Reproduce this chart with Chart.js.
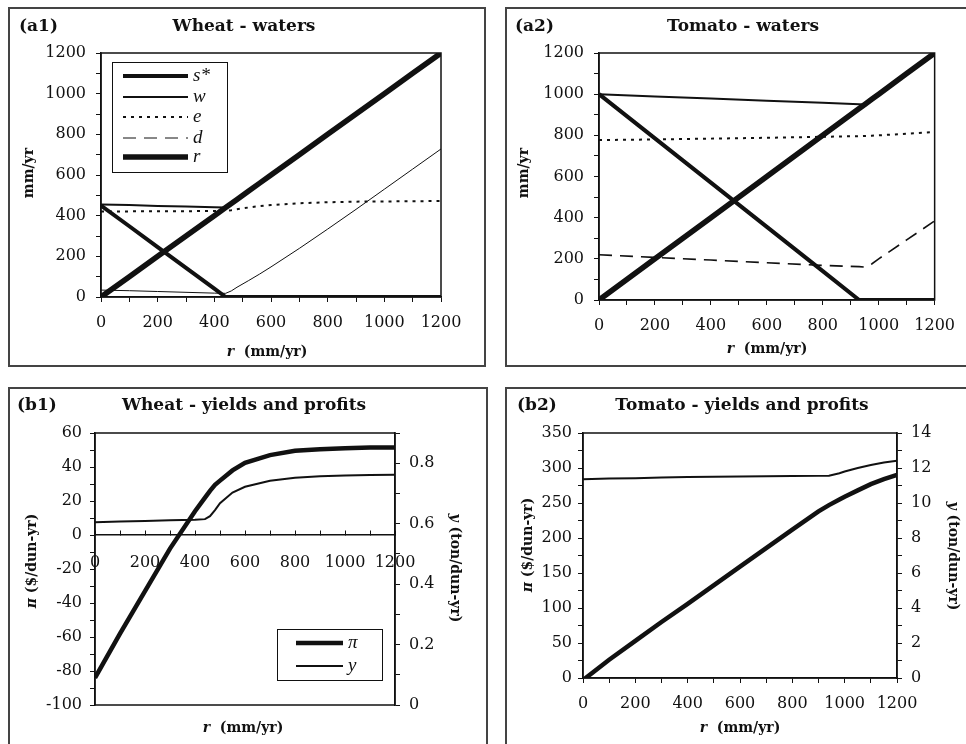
<!DOCTYPE html>
<html>
<head>
<meta charset="utf-8">
<title>Wheat / Tomato — waters, yields and profits</title>
<script src="https://cdn.jsdelivr.net/npm/chart.js@4.4.1/dist/chart.umd.min.js"></script>
<style>
  body { margin:0; width:966px; height:744px; overflow:hidden; position:relative; background:#fff; color:#111; font-family:'DejaVu Serif', serif; }
  .panel { position:absolute; border:2px solid #444; box-sizing:border-box; }
  canvas { position:absolute; }
  .txt { position:absolute; font-weight:bold; white-space:nowrap; line-height:20px; }
  .tag, .ttl { font-size:17px; }
  .ttl { text-align:center; width:400px; }
  .ax { font-size:14px; text-align:center; width:200px; }
  .rot-l { transform:rotate(-90deg); }
  .rot-r { transform:rotate(90deg); }
</style>
</head>
<body>

<div class="panel" style="left:8px; top:7px; width:478px; height:360px;"></div>
<div class="panel" style="left:505px; top:7px; width:470px; height:360px;"></div>
<div class="panel" style="left:8px; top:387px; width:480px; height:370px;"></div>
<div class="panel" style="left:505px; top:387px; width:470px; height:370px;"></div>

<canvas id="chart-a1" width="473" height="355" style="left:10px; top:9px;"></canvas>
<canvas id="chart-a2" width="459" height="355" style="left:507px; top:9px;"></canvas>
<canvas id="chart-b1" width="475" height="355" style="left:10px; top:389px;"></canvas>
<canvas id="chart-b2" width="459" height="355" style="left:507px; top:389px;"></canvas>

<!-- panel labels and titles -->
<div class="txt tag" style="left:19px; top:15px;">(a1)</div>
<div class="txt ttl" style="left:44px; top:15px;">Wheat - waters</div>
<div class="txt tag" style="left:515px; top:15px;">(a2)</div>
<div class="txt ttl" style="left:543px; top:15px;">Tomato - waters</div>
<div class="txt tag" style="left:17px; top:394px;">(b1)</div>
<div class="txt ttl" style="left:44px; top:394px;">Wheat - yields and profits</div>
<div class="txt tag" style="left:517px; top:394px;">(b2)</div>
<div class="txt ttl" style="left:542px; top:394px;">Tomato - yields and profits</div>

<!-- axis titles -->
<div class="txt ax" style="left:167px; top:341px;"><i>r</i>&nbsp; (mm/yr)</div>
<div class="txt ax rot-l" style="left:-72px; top:163px;">mm/yr</div>
<div class="txt ax" style="left:667px; top:338px;"><i>r</i>&nbsp; (mm/yr)</div>
<div class="txt ax rot-l" style="left:423px; top:163px;">mm/yr</div>
<div class="txt ax" style="left:143px; top:717px;"><i>r</i>&nbsp; (mm/yr)</div>
<div class="txt ax rot-l" style="left:-69px; top:551px;"><i>π</i> ($/dun-yr)</div>
<div class="txt ax rot-r" style="left:356px; top:558px;"><i>y</i> (ton/dun-yr)</div>
<div class="txt ax" style="left:640px; top:717px;"><i>r</i>&nbsp; (mm/yr)</div>
<div class="txt ax rot-l" style="left:427px; top:535px;"><i>π</i> ($/dun-yr)</div>
<div class="txt ax rot-r" style="left:854px; top:546px;"><i>y</i> (ton/dun-yr)</div>

<script>
// Four panels: irrigation waters (a1, a2) and yields/profits (b1, b2) vs r

// ── (a1) Wheat - waters ───────────────────────────────────────────────────────
const A1_R = [0, 100, 200, 300, 400, 440, 460, 480, 520, 560, 600, 700, 800, 900, 1000, 1100, 1200];
const A1_S = [450, 348, 245, 143, 41, 0, 0, 0, 0, 0, 0, 0, 0, 0, 0, 0, 0];
const A1_W = [455, 452, 448, 445, 441, 440, 460, 480, 520, 560, 600, 700, 800, 900, 1000, 1100, 1200];
const A1_E = [421, 421, 422, 422, 423, 423, 427, 432, 440, 447, 452, 461, 466, 469, 470, 471, 472];
const A1_D = [34, 31, 27, 23, 19, 18, 30, 48, 80, 113, 148, 239, 334, 431, 530, 629, 728];

// ── (a2) Tomato - waters ──────────────────────────────────────────────────────
const A2_R = [0, 200, 400, 600, 800, 930, 950, 975, 1000, 1100, 1200];
const A2_S = [1000, 785, 570, 355, 140, 0, 0, 0, 0, 0, 0];
const A2_W = [1000, 989, 979, 968, 958, 951, 950, 975, 1000, 1100, 1200];
const A2_E = [777, 780, 784, 788, 793, 796, 797, 798, 800, 808, 816];
const A2_D = [220, 207, 194, 181, 168, 162, 160, 175, 200, 292, 384];

// ── (b1) Wheat - yields and profits ───────────────────────────────────────────
const B1_R  = [0, 100, 200, 300, 400, 440, 460, 480, 500, 550, 600, 700, 800, 900, 1000, 1100, 1200];
const B1_PI = [-84, -58, -33, -8, 14, 22, 26, 29.5, 32, 38, 42.5, 47, 49.5, 50.5, 51, 51.5, 51.5];
const B1_Y  = [0.605, 0.607, 0.609, 0.611, 0.613, 0.615, 0.625, 0.645, 0.668, 0.703, 0.722, 0.742, 0.752, 0.757, 0.759, 0.761, 0.762];

// ── (b2) Tomato - yields and profits ──────────────────────────────────────────
const B2_R  = [0, 100, 200, 300, 400, 600, 800, 900, 940, 980, 1000, 1050, 1100, 1150, 1200];
const B2_PI = [-3, 26, 53, 80, 106, 159, 212, 238, 247, 255, 259, 268, 277, 284, 290];
const B2_Y  = [11.35, 11.40, 11.42, 11.46, 11.48, 11.52, 11.54, 11.55, 11.56, 11.70, 11.80, 12.00, 12.17, 12.31, 12.42];

// ── Styling ───────────────────────────────────────────────────────────────────
const INK = '#111';
const TICK_FONT = { family: 'DejaVu Serif', size: 16 };

const pts = (xs, ys) => xs.map((x, i) => ({ x, y: ys[i] }));

// margins between canvas edges and the plot box, so every panel lines up
function margins(canvas, plot) {
  const c = canvas.getBoundingClientRect();
  return {
    left: plot[0] - c.left,
    top: plot[1] - c.top,
    right: c.left + c.width - plot[2],
    bottom: c.top + c.height - plot[3],
  };
}

// thin box round the plot area
const frame = {
  id: 'frame',
  beforeDatasetsDraw(chart) {
    const { ctx, chartArea: a } = chart;
    ctx.save();
    ctx.strokeStyle = INK;
    ctx.lineWidth = 1.5;
    ctx.strokeRect(a.left, a.top, a.right - a.left, a.bottom - a.top);
    ctx.restore();
  },
};

// boxed legend inside the plot, samples drawn from the datasets' own styles
const boxLegend = {
  id: 'boxLegend',
  afterDatasetsDraw(chart, args, o) {
    if (!o || !o.w) return;
    const { ctx, chartArea: a } = chart;
    const bx = a.left + o.x, by = a.top + o.y;
    ctx.save();
    ctx.fillStyle = '#fff';
    ctx.fillRect(bx, by, o.w, o.h);
    ctx.strokeStyle = INK;
    ctx.lineWidth = 1;
    ctx.strokeRect(bx + 0.5, by + 0.5, o.w, o.h);
    chart.data.datasets.forEach((ds, i) => {
      const y = by + o.rows[i];
      ctx.beginPath();
      ctx.setLineDash(ds.legendDash || ds.borderDash || []);
      ctx.lineWidth = ds.borderWidth;
      ctx.strokeStyle = INK;
      ctx.moveTo(bx + o.x0, y);
      ctx.lineTo(bx + o.x1, y);
      ctx.stroke();
      ctx.setLineDash([]);
      ctx.fillStyle = INK;
      ctx.font = 'italic 19px "Liberation Serif"';
      ctx.textBaseline = 'middle';
      ctx.fillText(ds.label, bx + o.tx, y);
    });
    ctx.restore();
  },
};

function line(label, data, width, dash) {
  return {
    label, data,
    borderColor: INK, borderWidth: width, borderDash: dash || [],
    pointRadius: 0, fill: false, tension: 0,
  };
}

function xAxis(m, pad, extra) {
  return Object.assign({
    type: 'linear', min: 0, max: 1200,
    ticks: {
      stepSize: 100, autoSkip: false, maxRotation: 0, padding: pad, color: INK, font: TICK_FONT,
      callback: v => (v % 200 === 0 ? v : ''),
    },
    grid: { drawOnChartArea: false, drawTicks: true, tickLength: 5, color: INK },
    border: { color: INK, width: 1.5 },
    afterFit: s => { s.height = m.bottom; },
  }, extra || {});
}

function yAxis(min, max, step, every, width, pos, pad, fmt) {
  return {
    type: 'linear', position: pos, min, max,
    ticks: {
      stepSize: step, autoSkip: false, padding: pad, color: INK, font: TICK_FONT,
      callback: v => {
        const k = Math.round(v / step);
        if (k % every !== 0 || v > max - step / 2 && (max / step) % every !== 0) return '';
        return fmt ? fmt(v) : v;
      },
    },
    grid: { drawOnChartArea: false, drawTicks: true, tickLength: 5, color: INK },
    border: { color: INK, width: 1.5 },
    afterFit: s => { s.width = width; },
  };
}

function baseOptions(m, extraPad) {
  return {
    responsive: false, animation: false, devicePixelRatio: 1,
    layout: { padding: Object.assign({ left: 0, right: 0, top: m.top, bottom: 0 }, extraPad || {}) },
    plugins: { legend: { display: false }, tooltip: { enabled: false }, title: { display: false } },
  };
}

// ── Boot ──────────────────────────────────────────────────────────────────────
function waterChart(id, plot, R, S, W, E, D, legendOpts) {
  const cv = document.getElementById(id);
  const m = margins(cv, plot);
  const opts = baseOptions(m, { right: m.right });
  opts.scales = {
    x: xAxis(m, 11),
    y: yAxis(0, 1200, 100, 2, m.left, 'left', 10),
  };
  opts.plugins.boxLegend = legendOpts || {};
  const dD = line('d', pts(R, D), id === 'chart-a1' ? 1 : 1.6, id === 'chart-a1' ? [] : [13, 8]);
  dD.legendDash = [13, 8];
  new Chart(cv, {
    type: 'line',
    data: {
      datasets: [
        line('s*', pts(R, S), 4),
        line('w', pts(R, W), 2),
        line('e', pts(R, E), 2, [3, 5]),
        dD,
        line('r', pts(R, R), 5.5),
      ],
    },
    options: opts,
    plugins: [frame, boxLegend],
  });
}

waterChart('chart-a1', [101, 53, 441, 297], A1_R, A1_S, A1_W, A1_E, A1_D,
  { x: 11, y: 9, w: 115, h: 110, x0: 11, x1: 76, tx: 81, rows: [14, 35, 55, 76, 95] });
waterChart('chart-a2', [599, 53, 939, 300], A2_R, A2_S, A2_W, A2_E, A2_D);

// (b1) profit on the left axis, yield on the right, x axis crossing at zero
(function () {
  const cv = document.getElementById('chart-b1');
  const m = margins(cv, [95, 433, 395, 705]);
  const opts = baseOptions(m, { bottom: m.bottom });
  opts.scales = {
    x: xAxis(m, 23, { position: { y: 0 }, grid: { drawOnChartArea: false, drawTicks: true, tickLength: -5, color: INK } }),
    y: yAxis(-100, 60, 10, 2, m.left, 'left', 8),
    y2: yAxis(0, 0.9, 0.1, 2, m.right, 'right', 9, v => (v === 0 ? '0' : v.toFixed(1))),
  };
  opts.plugins.boxLegend = { x: 182, y: 196, w: 105, h: 51, x0: 19, x1: 66, tx: 71, rows: [14, 37] };
  new Chart(cv, {
    type: 'line',
    data: {
      datasets: [
        Object.assign(line('π', pts(B1_R, B1_PI), 4.5), { yAxisID: 'y' }),
        Object.assign(line('y', pts(B1_R, B1_Y), 2), { yAxisID: 'y2' }),
      ],
    },
    options: opts,
    plugins: [frame, boxLegend],
  });
})();

// (b2) tomato profit and yield
(function () {
  const cv = document.getElementById('chart-b2');
  const m = margins(cv, [583, 433, 897, 678]);
  const opts = baseOptions(m);
  opts.scales = {
    x: xAxis(m, 11),
    y: yAxis(0, 350, 25, 2, m.left, 'left', 6),
    y2: yAxis(0, 14, 1, 2, m.right, 'right', 9),
  };
  new Chart(cv, {
    type: 'line',
    data: {
      datasets: [
        Object.assign(line('π', pts(B2_R, B2_PI), 4.5), { yAxisID: 'y' }),
        Object.assign(line('y', pts(B2_R, B2_Y), 2), { yAxisID: 'y2' }),
      ],
    },
    options: opts,
    plugins: [frame],
  });
})();
</script>
</body>
</html>
